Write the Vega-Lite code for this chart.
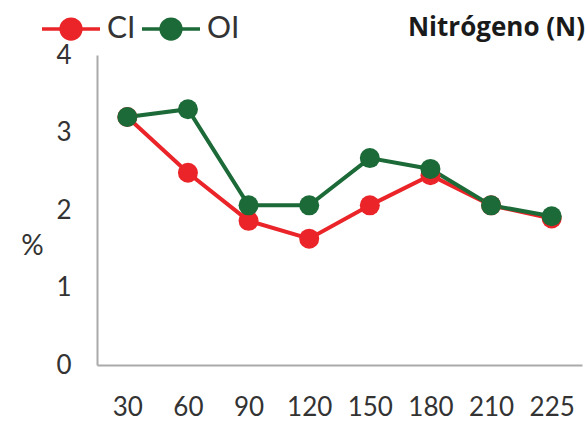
{
  "$schema": "https://vega.github.io/schema/vega-lite/v6.json",
  "autosize": {"type": "none"},
  "width": 485,
  "height": 310,
  "padding": {"left": 97, "top": 55, "right": 4, "bottom": 57},
  "background": "white",
  "config": {
    "font": "Lato",
    "view": {"stroke": null}
  },
  "title": {
    "text": "Nitrógeno (N)",
    "anchor": "end",
    "frame": "group",
    "font": "Open Sans",
    "fontSize": 26,
    "fontWeight": "bold",
    "color": "#1a1a1a",
    "baseline": "alphabetic",
    "offset": 0,
    "dy": 64,
    "dx": 3
  },
  "data": {
    "values": [
      {"dia": "30", "serie": "CI", "valor": 3.2},
      {"dia": "60", "serie": "CI", "valor": 2.48},
      {"dia": "90", "serie": "CI", "valor": 1.86},
      {"dia": "120", "serie": "CI", "valor": 1.63},
      {"dia": "150", "serie": "CI", "valor": 2.06},
      {"dia": "180", "serie": "CI", "valor": 2.45},
      {"dia": "210", "serie": "CI", "valor": 2.06},
      {"dia": "225", "serie": "CI", "valor": 1.89},
      {"dia": "30", "serie": "OI", "valor": 3.2},
      {"dia": "60", "serie": "OI", "valor": 3.3},
      {"dia": "90", "serie": "OI", "valor": 2.06},
      {"dia": "120", "serie": "OI", "valor": 2.06},
      {"dia": "150", "serie": "OI", "valor": 2.67},
      {"dia": "180", "serie": "OI", "valor": 2.53},
      {"dia": "210", "serie": "OI", "valor": 2.06},
      {"dia": "225", "serie": "OI", "valor": 1.92}
    ]
  },
  "encoding": {
    "x": {
      "field": "dia",
      "type": "ordinal",
      "sort": null,
      "scale": {"type": "point", "padding": 0.5},
      "axis": {
        "title": null,
        "labelAngle": 0,
        "labelFontSize": 26,
        "labelColor": "#333333",
        "labelPadding": 29,
        "ticks": false,
        "domainColor": "#aaaaaa",
        "domainWidth": 2
      }
    },
    "y": {
      "field": "valor",
      "type": "quantitative",
      "scale": {"domain": [0, 4], "nice": false},
      "axis": {
        "title": "%",
        "titleAngle": 0,
        "titleFontSize": 28,
        "titleFontWeight": "normal",
        "titleColor": "#333333",
        "titleX": -65,
        "titleY": 205,
        "values": [0, 1, 2, 3, 4],
        "grid": false,
        "ticks": false,
        "labelFontSize": 26,
        "labelColor": "#333333",
        "labelPadding": 26,
        "domainColor": "#aaaaaa",
        "domainWidth": 2
      }
    },
    "color": {
      "field": "serie",
      "type": "nominal",
      "scale": {"domain": ["CI", "OI"], "range": ["#ea2428", "#1b6a37"]},
      "legend": {
        "title": null,
        "orient": "none",
        "direction": "horizontal",
        "legendX": -57,
        "legendY": -57,
        "symbolType": "M-1,0L-0.34,0M0.34,0L1,0M-0.34,0A0.34,0.34,0,1,1,0.34,0A0.34,0.34,0,1,1,-0.34,0Z",
        "symbolSize": 3364,
        "symbolStrokeWidth": 3.5,
        "symbolOpacity": 1,
        "labelFontSize": 30,
        "labelColor": "#333333",
        "labelOffset": 5,
        "columnPadding": -1
      }
    }
  },
  "layer": [
    {"mark": {"type": "line", "strokeWidth": 4}},
    {"mark": {"type": "circle", "size": 400, "opacity": 1}}
  ]
}
